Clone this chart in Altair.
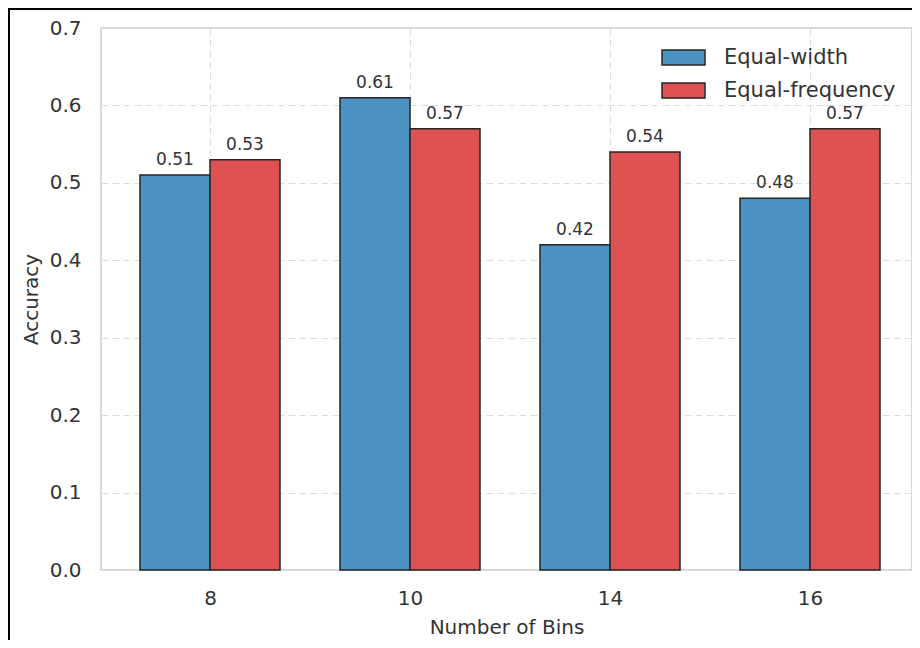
import json
import altair as alt
import pandas as pd

# ---- data ----
bins = ["8", "10", "14", "16"]
series = ["Equal-width", "Equal-frequency"]
equal_width = [0.51, 0.61, 0.42, 0.48]
equal_frequency = [0.53, 0.57, 0.54, 0.57]
colors = ["#4C92C3", "#DE5253"]

BAR_W = 0.35
rows = []
for i, b in enumerate(bins):
    for s, vals, off in ((series[0], equal_width, -1), (series[1], equal_frequency, 0)):
        x0 = i - BAR_W if off < 0 else i
        x1 = i if off < 0 else i + BAR_W
        rows.append({"pos": i, "bin": b, "series": s, "value": vals[i],
                     "x0": x0, "x1": x1, "xc": (x0 + x1) / 2,
                     "label": f"{vals[i]:.2f}"})
df = pd.DataFrame(rows)

TEXT = "#333333"
FONT = "DejaVu Sans"

xscale = alt.Scale(domain=[-0.545, 3.51], nice=False, zero=False, padding=0)
yscale = alt.Scale(domain=[0, 0.7], nice=False, padding=0)

label_expr = json.dumps(bins) + "[datum.value]"

base = alt.Chart(df)

bars = base.mark_bar(stroke="#262626", strokeWidth=1.5, opacity=1).encode(
    x=alt.X("x0:Q", scale=xscale,
            axis=alt.Axis(values=[0, 1, 2, 3], labelExpr=label_expr,
                          title="Number of Bins", labelFontSize=20,
                          titleFontSize=20, titleFontWeight="normal",
                          labelPadding=18, titlePadding=9, ticks=False,
                          domain=False, grid=True)),
    x2="x1:Q",
    y=alt.Y("value:Q", scale=yscale,
            axis=alt.Axis(values=[0, 0.1, 0.2, 0.3, 0.4, 0.5, 0.6, 0.7],
                          format=".1f", title="Accuracy", labelFontSize=20,
                          titleFontSize=20, titleFontWeight="normal",
                          labelPadding=20, titlePadding=8, ticks=False,
                          domain=False, grid=True)),
    y2=alt.datum(0),
    color=alt.Color("series:N",
                    scale=alt.Scale(domain=series, range=colors),
                    legend=alt.Legend(title=None, orient="none",
                                      legendX=571, legendY=18,
                                      symbolType="M-2,-0.7H2V0.7H-2Z",
                                      symbolSize=462,
                                      symbolStrokeColor="#262626",
                                      symbolStrokeWidth=1.5,
                                      symbolOpacity=1,
                                      labelFontSize=21, labelColor=TEXT,
                                      labelFont=FONT, labelLimit=0,
                                      labelOffset=29, rowPadding=10)),
)

labels = base.mark_text(baseline="alphabetic", dy=-10, fontSize=17, color=TEXT,
                        font=FONT).encode(
    x=alt.X("xc:Q", scale=xscale),
    y=alt.Y("value:Q", scale=yscale),
    text="label:N",
)

frame = alt.Chart(pd.DataFrame({"a": [0]})).mark_rect(
    fill=None, stroke="black", strokeWidth=2
).encode(x=alt.value(-92), y=alt.value(-19), x2=alt.value(3000), y2=alt.value(3000))

chart = alt.layer(bars, labels, frame).properties(
    width=811, height=542,
    autosize=alt.AutoSizeParams(type="none"),
    padding={"left": 93, "top": 20, "right": 0, "bottom": 70},
    background="white",
).configure_view(
    stroke="#cccccc", strokeWidth=1.5
).configure_axis(
    labelColor=TEXT, titleColor=TEXT, labelFont=FONT, titleFont=FONT,
    gridColor="#dcdcdc", gridDash=[7, 4], gridWidth=1.2,
)

chart.save("out.html", embed_options={"renderer": "svg", "actions": False})
